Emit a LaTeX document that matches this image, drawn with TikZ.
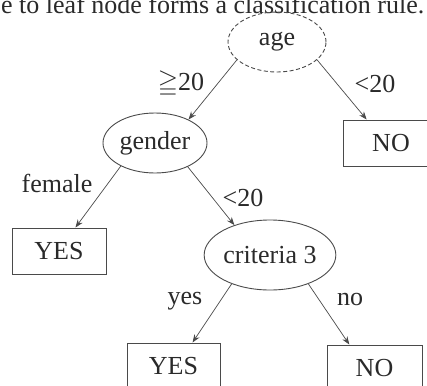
\documentclass[tikz,border=0pt]{standalone}
\usepackage{fontspec}
\usepackage{amssymb}
\setmainfont{Liberation Serif}
\usetikzlibrary{shapes.geometric, arrows.meta}
\definecolor{treeline}{HTML}{4A4A4A}
\definecolor{treetext}{HTML}{2A2A2A}

\begin{document}
\begin{tikzpicture}[
  x=1pt, y=-1pt,
  font=\fontsize{26}{30}\selectfont,
  testnode/.style={
    draw=treeline,
    line width=0.9pt,
    ellipse,
    inner sep=0pt,
    text=treetext
  },
  leafbox/.style={
    draw=treeline,
    line width=1pt,
    rectangle,
    minimum width=94pt,
    minimum height=46pt,
    inner sep=0pt,
    text=treetext
  },
  edgelabel/.style={text=treetext, inner sep=1pt}
]
  \useasboundingbox (0,0) rectangle (427,385);
  \clip (0,0) rectangle (427,385);

  % --- caption line, cut off by the page ---
  \node[text=treetext, anchor=base west, inner sep=0pt] (caption) at (1,14)
       {e to leaf node forms a classification rule.};

  % --- test nodes ---
  \node[testnode, dash pattern=on 4pt off 2.5pt, minimum width=98pt, minimum height=60pt] (age) at (277,42) {age};
  \node[testnode, minimum width=104pt, minimum height=60pt] (gender)   at (155,143) {gender};
  \node[testnode, minimum width=116pt, minimum height=70pt] (criteria) at (270,255) {criteria 3};

  % --- leaves ---
  \node[leafbox, minimum width=96pt] (noA)  at (391,143)   {NO};
  \node[leafbox]                     (yesA) at (59,251)    {YES};
  \node[leafbox, minimum width=93pt] (yesB) at (173.5,366) {YES};
  \node[leafbox, minimum width=95pt] (noB)  at (374.5,368) {NO};

  % Arrows between nodes
  \foreach \a/\b in {age.204/gender.35, age.336/noA.136, gender.214/yesA.55,
                     gender.324/criteria.140, criteria.217/yesB.51, criteria.323/noB.137}
    \draw[-{Stealth[length=8pt, width=6pt]}, line width=0.7pt, color=treeline] (\a) -- (\b);

  % --- branch labels ---
  \node[edgelabel] (lgeq)   at (181,84)  {${\geqq}$20};
  \node[edgelabel] (llt)    at (375,84)  {<20};
  \node[edgelabel] (lfem)   at (57,183)  {female};
  \node[edgelabel] (llt2)   at (243,198) {<20};
  \node[edgelabel] (lyes)   at (185,301) {yes};
  \node[edgelabel] (lno)    at (350,299) {no};

\end{tikzpicture}
\end{document}
